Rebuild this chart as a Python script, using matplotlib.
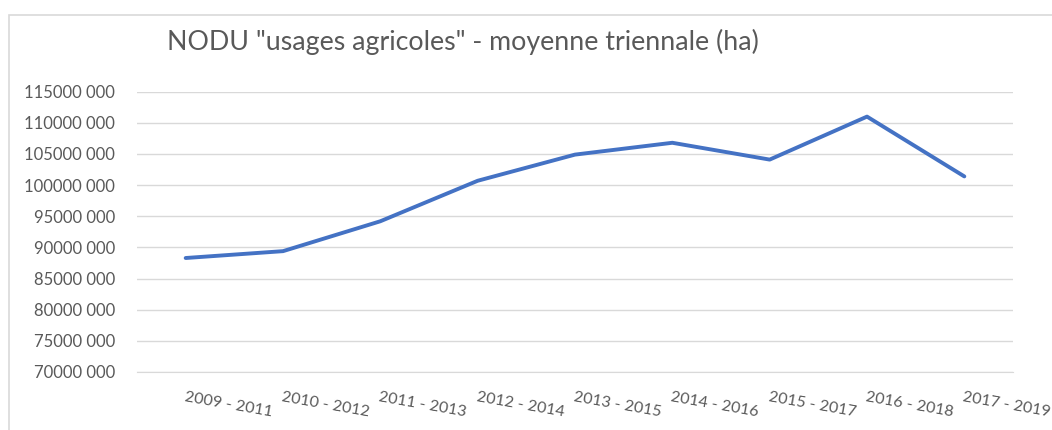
import matplotlib
matplotlib.use("Agg")
import matplotlib.pyplot as plt
from matplotlib.patches import Rectangle
from matplotlib.ticker import FuncFormatter, MultipleLocator

periods = ["2009 - 2011", "2010 - 2012", "2011 - 2013", "2012 - 2014", "2013 - 2015",
           "2014 - 2016", "2015 - 2017", "2016 - 2018", "2017 - 2019"]
nodu_ha = [88300000, 89400000, 94200000, 100700000, 104900000,
           106800000, 104100000, 111000000, 101400000]

txt = "#595959"
grid = "#D9D9D9"
plt.rcParams['font.family'] = ['Lato', 'DejaVu Sans']

fig = plt.figure(figsize=(10.52, 4.30), dpi=100)
ax = fig.add_axes([137 / 1052, 1 - 372 / 430, (1013 - 137) / 1052, (372 - 91.7) / 430])

x = list(range(len(periods)))
ax.plot(x, nodu_ha, color="#4472C4", lw=2.8, solid_capstyle="round", solid_joinstyle="round", zorder=3)

ax.set_xlim(-0.5, len(periods) - 0.5)
ax.set_ylim(70000000, 115000000)
ax.yaxis.set_major_locator(MultipleLocator(5000000))
ax.yaxis.set_major_formatter(FuncFormatter(lambda v, p: "%d 000" % int(round(v / 1000))))
ax.grid(axis="y", color=grid, lw=1)
ax.set_axisbelow(True)
for s in ["top", "right", "left"]:
    ax.spines[s].set_visible(False)
ax.spines["bottom"].set_color(grid)
ax.tick_params(axis="y", length=0, pad=16, labelsize=12, labelcolor=txt)
ax.tick_params(axis="x", length=0, pad=13, labelsize=11.5, labelcolor=txt)
ax.set_xticks(x)
ax.set_xticklabels(periods, rotation=-10, ha="left", va="top", rotation_mode="anchor")

fig.text(167 / 1052, 1 - 42 / 430, 'NODU "usages agricoles" - moyenne triennale (ha)',
         fontsize=19.3, color=txt, ha="left", va="center")

fig.patches.append(Rectangle((8.5 / 1052, -0.1), 1.2, 1 - 15 / 430 + 0.1, transform=fig.transFigure,
                             fill=False, edgecolor=grid, lw=1.2))

fig.savefig("out.png", dpi=100)
